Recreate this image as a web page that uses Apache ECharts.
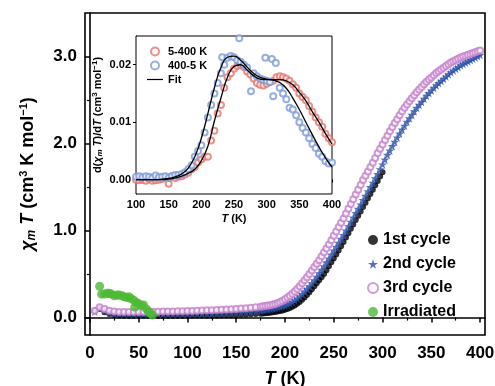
<!DOCTYPE html>
<html>
<head>
<meta charset="utf-8">
<script src="https://cdn.jsdelivr.net/npm/echarts@6/dist/echarts.min.js"></script>
<style>
  html, body { margin: 0; padding: 0; background: #fff; }
  #chart { width: 495px; height: 386px; }
</style>
</head>
<body>
<div id="chart"></div>
<script>
// main plot: chi_m T vs T (5 K steps below 180 K, 2.5 K steps above)
const tempAll = [5,10,15,20,25,30,35,40,45,50,55,60,65,70,75,80,85,90,95,100,
  105,110,115,120,125,130,135,140,145,150,155,160,165,170,175,
  177.5,180,182.5,185,187.5,190,192.5,195,197.5,200,202.5,205,207.5,210,212.5,215,217.5,220,222.5,225,227.5,230,232.5,235,237.5,240,
  242.5,245,247.5,250,252.5,255,257.5,260,262.5,265,267.5,270,272.5,275,277.5,280,282.5,285,287.5,290,292.5,295,297.5,300,
  302.5,305,307.5,310,312.5,315,317.5,320,322.5,325,327.5,330,332.5,335,337.5,340,342.5,345,347.5,350,
  352.5,355,357.5,360,362.5,365,367.5,370,372.5,375,377.5,380,382.5,385,387.5,390,392.5,395,397.5,400];

const cycle1 = [0.08,0.10,0.06,0.04,0.03,0.025,0.022,0.02,0.02,0.02,0.02,0.02,0.02,0.02,0.02,0.02,0.021,0.021,0.022,0.022,
  0.023,0.023,0.024,0.024,0.025,0.025,0.026,0.027,0.028,0.03,0.032,0.034,0.037,0.04,0.045,
  0.047,0.05,0.053,0.057,0.061,0.065,0.07,0.075,0.082,0.09,0.10,0.11,0.125,0.14,0.16,0.18,0.205,0.23,0.26,0.29,0.325,0.36,0.395,0.43,0.465,0.50,
  0.545,0.59,0.635,0.68,0.725,0.77,0.82,0.87,0.92,0.97,1.02,1.07,1.12,1.17,1.22,1.27,1.32,1.37,1.42,1.47,1.52,1.57,1.62,1.67];

const cycle2 = [0.07,0.11,0.08,0.06,0.05,0.045,0.043,0.042,0.042,0.042,0.042,0.042,0.042,0.043,0.043,0.043,0.044,0.044,0.045,0.045,
  0.046,0.047,0.048,0.049,0.05,0.051,0.053,0.055,0.057,0.06,0.063,0.066,0.07,0.075,0.08,
  0.085,0.09,0.095,0.10,0.105,0.11,0.117,0.125,0.132,0.14,0.152,0.165,0.18,0.20,0.22,0.245,0.27,0.30,0.33,0.36,0.395,0.43,0.47,0.51,0.55,0.59,
  0.635,0.68,0.725,0.77,0.815,0.86,0.905,0.95,1.0,1.05,1.10,1.15,1.20,1.25,1.30,1.35,1.40,1.45,1.50,1.55,1.60,1.65,1.705,1.76,
  1.815,1.87,1.92,1.97,2.02,2.07,2.115,2.16,2.205,2.25,2.29,2.33,2.37,2.41,2.445,2.48,2.515,2.55,2.58,2.61,
  2.64,2.67,2.695,2.72,2.745,2.77,2.795,2.82,2.84,2.86,2.88,2.90,2.915,2.93,2.945,2.96,2.975,2.99,3.005,3.02];

const cycle3 = [0.08,0.12,0.10,0.08,0.07,0.065,0.065,0.065,0.065,0.065,0.065,0.066,0.067,0.068,0.069,0.07,0.071,0.072,0.073,0.075,
  0.077,0.079,0.081,0.083,0.085,0.088,0.09,0.093,0.096,0.10,0.104,0.108,0.113,0.118,0.125,
  0.129,0.133,0.138,0.143,0.15,0.157,0.167,0.18,0.194,0.21,0.23,0.25,0.275,0.30,0.33,0.36,0.395,0.43,0.465,0.50,0.54,0.58,0.62,0.66,0.705,0.75,
  0.795,0.84,0.89,0.94,0.99,1.04,1.09,1.14,1.195,1.25,1.305,1.36,1.415,1.47,1.525,1.58,1.63,1.68,1.73,1.78,1.835,1.89,1.94,1.99,
  2.04,2.09,2.14,2.19,2.235,2.28,2.325,2.37,2.41,2.45,2.485,2.52,2.555,2.59,2.62,2.65,2.68,2.71,2.735,2.76,
  2.785,2.81,2.83,2.85,2.87,2.89,2.91,2.93,2.945,2.96,2.975,2.99,3.0,3.01,3.02,3.03,3.04,3.05,3.06,3.07];

const irrT = [10,12,15,18,20,22,25,28,30,33,35,38,40,42,45,46,48,50,53,55,58,60,62,64];
const irrV = [0.36,0.27,0.27,0.28,0.28,0.27,0.25,0.26,0.26,0.25,0.24,0.23,0.24,0.22,0.20,0.12,0.17,0.16,0.14,0.145,0.10,0.07,0.05,0.03];

// inset: d(chi_m T)/dT
const heatT = [100,105,110,115,120,125,130,135,140,145,150,155,160,165,170,175,180,185,190,195,200,
  205,210,215,220,225,230,235,240,245,250,255,260,265,270,275,280,285,290,295,300,
  305,310,315,320,325,330,335,340,345,350,355,360,365,370,375,380,385,390,395,400];
const heatV = [0.0000,-0.0001,0.0000,-0.0002,0.0001,-0.0002,-0.0001,0.0000,0.0001,0.0004,-0.0007,0.0006,0.0003,0.0005,0.0006,0.0009,0.0012,0.0018,0.0022,0.0030,0.0035,
  0.0040,0.0040,0.0068,0.0085,0.0115,0.0130,0.0160,0.0178,0.0185,0.0193,0.0198,0.0200,0.0196,0.0188,0.0183,0.0176,0.0168,0.0165,0.0164,0.0167,
  0.0170,0.0172,0.0178,0.0180,0.0178,0.0176,0.0172,0.0166,0.0160,0.0150,0.0144,0.0138,0.0128,0.0118,0.0108,0.0100,0.0092,0.0080,0.0072,0.0065];

const coolT = [100,105,110,115,120,125,130,135,140,145,150,155,160,165,170,175,180,185,190,195,200,
  205,210,215,220,225,230,232,235,240,245,250,255,258,260,265,270,276,280,285,290,295,298,300,
  305,308,310,314,320,325,330,335,340,345,350,355,360,365,370,375,380,385,390,395,400];
const coolV = [0.0005,0.0006,0.0004,0.0006,0.0005,0.0003,0.0007,0.0004,0.0005,0.0006,0.0003,0.0006,0.0008,0.0008,0.0010,0.0013,0.0018,0.0025,0.0040,0.0050,0.0060,
  0.0082,0.0108,0.0130,0.0150,0.0168,0.0185,0.0213,0.0200,0.0212,0.0215,0.0213,0.0208,0.0246,0.0205,0.0200,0.0195,0.0154,0.0185,0.0180,0.0176,0.0174,0.0212,0.0172,
  0.0170,0.0210,0.0145,0.0203,0.0160,0.0150,0.0140,0.0125,0.0122,0.0112,0.0100,0.0090,0.0082,0.0072,0.0062,0.0055,0.0045,0.0040,0.0032,0.0028,0.0030];

const fitT = [100,110,120,130,140,150,160,170,180,190,200,210,220,230,240,250,260,270,280,290,300,310,320,330,340,350,360,370,380,390,400];
const fitHeat = [0,0,0,0,0,0.0001,0.0003,0.0006,0.0011,0.0018,0.0033,0.0058,0.0102,0.0142,0.0178,0.0197,0.0200,0.0191,0.0181,0.0175,0.0174,0.0174,0.0174,0.0172,0.0165,0.0152,0.0137,0.0118,0.0100,0.0080,0.0062];
const fitCool = [0,0,0,0,0.0001,0.0002,0.0005,0.0010,0.0020,0.0040,0.0072,0.0115,0.0160,0.0195,0.0213,0.0215,0.0208,0.0196,0.0185,0.0178,0.0175,0.0173,0.0169,0.0159,0.0142,0.0122,0.0100,0.0078,0.0057,0.0038,0.0022];

const mainXTicks = [0,50,100,150,200,250,300,350,400];
const mainXMinor = [25,75,125,175,225,275,325,375];
const mainYTicks = [0,1,2,3];
const mainYMinor = [0.5,1.5,2.5];
const insetYTicks = [0,0.01,0.02];

const FONT = '"Liberation Sans", Arial, sans-serif';
const STAR = 'path://M50,0 L61,35 L98,35 L68,57 L79,91 L50,70 L21,91 L32,57 L2,35 L39,35 Z';
const LINE_ICON = 'path://M0,0 L40,0 L40,3 L0,3 Z';

const zip = (xs, ys) => ys.map((v, i) => [xs[i], v]);

const blackAxis = { lineStyle: { color: '#000', width: 1.6 } };

const option = {
  animation: false,
  backgroundColor: '#fff',
  textStyle: { fontFamily: FONT, color: '#000' },
  grid: [
    { left: 85, right: 10, top: 13, bottom: 51, outerBoundsMode: 'none', containLabel: false,
      show: true, borderColor: '#000', borderWidth: 1.6, backgroundColor: 'transparent' },
    { left: 136, right: 163, top: 36, bottom: 192, outerBoundsMode: 'none', containLabel: false,
      show: true, borderColor: '#000', borderWidth: 1, backgroundColor: '#fff', z: 3 }
  ],
  legend: [
    {
      orient: 'vertical', left: 367, top: 232, padding: 0, itemGap: 8, itemWidth: 10, itemHeight: 10,
      textStyle: { fontSize: 16, fontWeight: 'bold', fontFamily: FONT, color: '#000' },
      data: ['1st cycle', '2nd cycle', '3rd cycle', 'Irradiated']
    },
    {
      orient: 'vertical', left: 147, top: 46, padding: 0, itemGap: 3, itemWidth: 16, itemHeight: 8, z: 5,
      symbolKeepAspect: true,
      textStyle: { fontSize: 11, fontWeight: 'bold', fontFamily: FONT, color: '#000' },
      data: ['5-400 K', '400-5 K', { name: 'Fit', icon: LINE_ICON }]
    }
  ],
  xAxis: [
    {
      type: 'value', gridIndex: 0, min: -5, max: 405,
      axisLine: blackAxis,
      axisTick: { length: 5, lineStyle: { color: '#000', width: 1.5 }, customValues: mainXTicks },
      axisLabel: { fontSize: 17, fontWeight: 'bold', color: '#000', margin: 10, customValues: mainXTicks },
      splitLine: { show: false },
      name: '{i|T} (K)', nameLocation: 'middle', nameGap: 35,
      nameTextStyle: { fontSize: 18, fontWeight: 'bold', color: '#000', rich: { i: { fontStyle: 'italic', fontSize: 18, fontWeight: 'bold' } } }
    },
    {
      type: 'value', gridIndex: 0, min: -5, max: 405, position: 'bottom',
      axisLine: { show: false },
      axisTick: { length: 3, lineStyle: { color: '#000', width: 1.2 }, customValues: mainXMinor },
      axisLabel: { show: false },
      splitLine: { show: false }
    },
    {
      type: 'value', gridIndex: 1, min: 100, max: 400, interval: 50,
      axisLine: { lineStyle: { color: '#000', width: 1 } },
      axisTick: { length: 3, lineStyle: { color: '#000' } },
      minorTick: { show: true, splitNumber: 2, length: 2, lineStyle: { color: '#000' } },
      axisLabel: { fontSize: 11, fontWeight: 'bold', color: '#000', margin: 5 },
      splitLine: { show: false },
      name: '{i|T} (K)', nameLocation: 'middle', nameGap: 19,
      nameTextStyle: { fontSize: 11, fontWeight: 'bold', color: '#000', rich: { i: { fontStyle: 'italic', fontSize: 11, fontWeight: 'bold' } } }
    }
  ],
  yAxis: [
    {
      type: 'value', gridIndex: 0, min: -0.2, max: 3.5,
      axisLine: blackAxis,
      axisTick: { length: 5, lineStyle: { color: '#000', width: 1.5 }, customValues: mainYTicks },
      axisLabel: { fontSize: 17, fontWeight: 'bold', color: '#000', margin: 8, customValues: mainYTicks, formatter: v => v.toFixed(1) },
      splitLine: { show: false },
      name: '{i|χ}{sub|m}{i| T} (cm{sup|3} K mol{sup|−1})', nameLocation: 'middle', nameGap: 47,
      nameTextStyle: {
        fontSize: 18, fontWeight: 'bold', color: '#000',
        rich: {
          i: { fontStyle: 'italic', fontSize: 18, fontWeight: 'bold' },
          sub: { fontStyle: 'italic', fontSize: 12, fontWeight: 'bold', padding: [8, 0, 0, 0] },
          sup: { fontSize: 11, fontWeight: 'bold', padding: [0, 0, 9, 0] }
        }
      }
    },
    {
      type: 'value', gridIndex: 0, min: -0.2, max: 3.5, position: 'left',
      axisLine: { show: false },
      axisTick: { length: 3, lineStyle: { color: '#000', width: 1.2 }, customValues: mainYMinor },
      axisLabel: { show: false },
      splitLine: { show: false }
    },
    {
      type: 'value', gridIndex: 1, min: -0.0025, max: 0.025,
      axisLine: { lineStyle: { color: '#000', width: 1 } },
      axisTick: { length: 3, lineStyle: { color: '#000' }, customValues: insetYTicks },
      axisLabel: { fontSize: 11, fontWeight: 'bold', color: '#000', margin: 5, customValues: insetYTicks, formatter: v => v.toFixed(2) },
      splitLine: { show: false },
      name: 'd({i|χ}{sub|m} {i|T})/d{i|T} (cm{sup|3} mol{sup|−1})', nameLocation: 'middle', nameGap: 32,
      nameTextStyle: {
        fontSize: 11, fontWeight: 'bold', color: '#000',
        rich: {
          i: { fontStyle: 'italic', fontSize: 11, fontWeight: 'bold' },
          sub: { fontStyle: 'italic', fontSize: 8, fontWeight: 'bold', padding: [5, 0, 0, 0] },
          sup: { fontSize: 8, fontWeight: 'bold', padding: [0, 0, 5, 0] }
        }
      }
    }
  ],
  series: [
    {
      name: '1st cycle', type: 'scatter', xAxisIndex: 0, yAxisIndex: 0,
      symbol: 'circle', symbolSize: 6, itemStyle: { color: '#000' },
      data: zip(tempAll, cycle1)
    },
    {
      name: '2nd cycle', type: 'scatter', xAxisIndex: 0, yAxisIndex: 0,
      symbol: STAR, symbolSize: 9, itemStyle: { color: '#2b4fa6' },
      data: zip(tempAll, cycle2)
    },
    {
      name: '3rd cycle', type: 'scatter', xAxisIndex: 0, yAxisIndex: 0,
      symbol: 'emptyCircle', symbolSize: 6, itemStyle: { color: '#c57fcc', borderWidth: 1 },
      data: zip(tempAll, cycle3)
    },
    {
      name: 'Irradiated', type: 'scatter', xAxisIndex: 0, yAxisIndex: 0,
      symbol: 'circle', symbolSize: 9, itemStyle: { color: '#4cb935' },
      data: zip(irrT, irrV)
    },
    {
      name: '5-400 K', type: 'scatter', xAxisIndex: 2, yAxisIndex: 2, z: 4,
      symbol: 'emptyCircle', symbolSize: 6, itemStyle: { color: '#e4766d', borderWidth: 0.9 },
      data: zip(heatT, heatV)
    },
    {
      name: '400-5 K', type: 'scatter', xAxisIndex: 2, yAxisIndex: 2, z: 4,
      symbol: 'emptyCircle', symbolSize: 6, itemStyle: { color: '#7d9bd8', borderWidth: 0.9 },
      data: zip(coolT, coolV)
    },
    {
      name: 'Fit', type: 'line', xAxisIndex: 2, yAxisIndex: 2, z: 5,
      symbol: 'none', smooth: true, lineStyle: { color: '#000', width: 1.3 }, itemStyle: { color: '#000' },
      data: zip(fitT, fitHeat)
    },
    {
      name: 'Fit', type: 'line', xAxisIndex: 2, yAxisIndex: 2, z: 5,
      symbol: 'none', smooth: true, lineStyle: { color: '#000', width: 1.3 }, itemStyle: { color: '#000' },
      data: zip(fitT, fitCool)
    }
  ]
};

const chart = echarts.init(document.getElementById('chart'), null, { renderer: 'canvas' });
chart.setOption(option);
</script>
</body>
</html>
